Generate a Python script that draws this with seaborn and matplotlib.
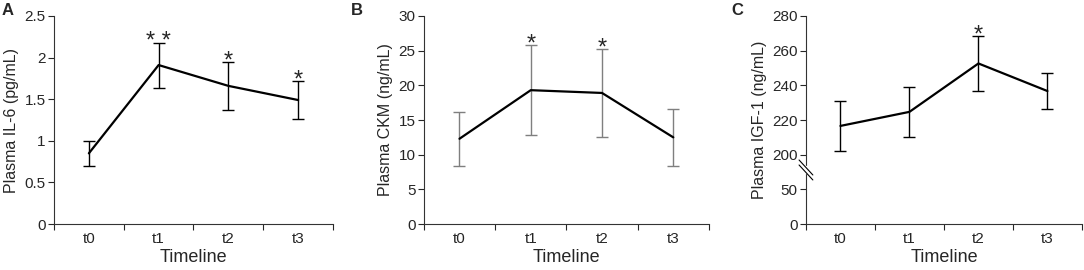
import numpy as np
import pandas as pd
import matplotlib
matplotlib.use("Agg")
import matplotlib.pyplot as plt
import seaborn as sns

sns.set_style("ticks")
plt.rcParams['font.family'] = ['Liberation Sans', 'DejaVu Sans']

timeline = ["t0", "t1", "t2", "t3"]

il6_mean = [0.85, 1.91, 1.66, 1.49]
il6_err = [0.15, 0.27, 0.29, 0.23]
il6_stars = ["", "* *", "*", "*"]

ckm_mean = [12.3, 19.3, 18.9, 12.5]
ckm_err = [3.9, 6.5, 6.3, 4.15]
ckm_stars = ["", "*", "*", ""]

igf_mean = [216.6, 224.7, 252.6, 236.7]
igf_err = [14.3, 14.6, 16.0, 10.4]
igf_stars = ["", "", "*", ""]


# broken y axis for IGF-1: 0-50 and 200-280 share the same tick spacing
def brk_fwd(v):
    v = np.asarray(v, dtype=float)
    return np.where(v <= 50, v / 50, np.where(v < 200, 1 + (v - 50) / 150, 2 + (v - 200) / 20))


def brk_inv(p):
    p = np.asarray(p, dtype=float)
    return np.where(p <= 1, p * 50, np.where(p < 2, 50 + (p - 1) * 150, 200 + (p - 2) * 20))


def panel(ax, mean, err, stars, ylabel, yticks, ylim, ecolor, letter, letter_x):
    df = pd.DataFrame({"Timeline": timeline, "value": mean})
    ax.errorbar(timeline, mean, yerr=err, fmt="none", ecolor=ecolor,
                elinewidth=1.0, capsize=4, capthick=1.0, zorder=2)
    sns.lineplot(data=df, x="Timeline", y="value", color="black", lw=1.6, ax=ax, zorder=3)
    for i, s in enumerate(stars):
        if s:
            ax.annotate(s, (i, mean[i] + err[i]), xytext=(0, -4), textcoords="offset points",
                        ha="center", va="baseline", fontsize=17)
    ax.set_ylim(*ylim)
    ax.set_yticks(yticks)
    ax.set_xlim(-0.5, 3.5)
    ax.set_xticks([-0.5, 0.5, 1.5, 2.5, 3.5])
    ax.set_xticklabels([])
    ax.set_xticks(range(4), minor=True)
    ax.set_xticklabels(timeline, minor=True)
    ax.tick_params(axis="x", which="major", length=4, width=0.8, direction="out")
    ax.tick_params(axis="x", which="minor", length=0, labelsize=11, pad=6)
    ax.tick_params(axis="y", length=4, width=0.8, labelsize=11, pad=2)
    ax.set_xlabel("Timeline", fontsize=13, labelpad=2)
    ax.set_ylabel(ylabel, fontsize=11.5, labelpad=4)
    for sp in ["left", "bottom"]:
        ax.spines[sp].set_linewidth(0.8)
        ax.spines[sp].set_color("#333333")
    sns.despine(ax=ax)
    ax.text(letter_x, 1.024, letter, transform=ax.transAxes, fontsize=12, fontweight="bold",
            ha="left", va="center")


fig = plt.figure(figsize=(10.84, 2.70), dpi=100)
axA = fig.add_axes([0.0498, 0.170, 0.2574, 0.771])
axB = fig.add_axes([0.391, 0.170, 0.263, 0.771])
axC = fig.add_axes([0.7435, 0.170, 0.2546, 0.771])

panel(axA, il6_mean, il6_err, il6_stars, "Plasma IL-6 (pg/mL)",
      [0, 0.5, 1, 1.5, 2, 2.5], (0, 2.5), "black", "A", -0.187)
axA.set_yticklabels(["0", "0.5", "1", "1.5", "2", "2.5"])

panel(axB, ckm_mean, ckm_err, ckm_stars, "Plasma CKM (ng/mL)",
      [0, 5, 10, 15, 20, 25, 30], (0, 30), "#7f7f7f", "B", -0.255)

axC.set_yscale("function", functions=(brk_fwd, brk_inv))
panel(axC, igf_mean, igf_err, igf_stars, "Plasma IGF-1 (ng/mL)",
      [0, 50, 200, 220, 240, 260, 280], (0, 280), "black", "C", -0.27)
axC.set_yticklabels(["0", "50", "200", "220", "240", "260", "280"])
axC.yaxis.set_minor_locator(matplotlib.ticker.NullLocator())

# break marks on the IGF-1 y axis
yb = 0.26
axC.plot([0, 0], [yb - 0.012, yb + 0.012], transform=axC.transAxes,
         color="white", lw=2.5, clip_on=False, zorder=4)
for dy in (-0.012, 0.012):
    axC.plot([-0.025, 0.025], [yb + 0.036 + dy, yb - 0.036 + dy], transform=axC.transAxes,
             color="black", lw=0.8, clip_on=False, zorder=5)

fig.savefig("out.png", dpi=100)
